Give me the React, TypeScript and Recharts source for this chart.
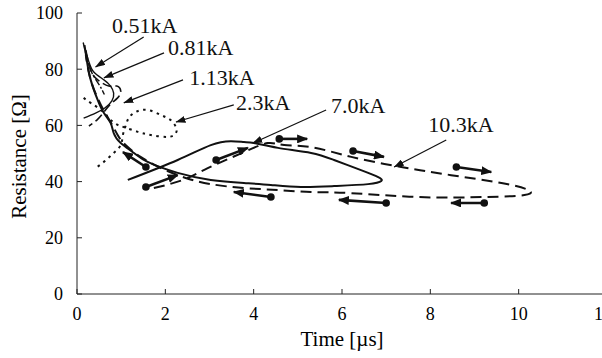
import { ComposedChart, Line, Scatter, XAxis, YAxis } from 'recharts';

const FONT = 'Liberation Serif, Times New Roman, serif';
const INK = '#111';

// resistance curves, [time µs, resistance Ω]
const curve051 = [[0.14, 89.5], [0.2, 85.5], [0.27, 81.5], [0.36, 78], [0.5, 74.5], [0.62, 71]];
const curve081 = [
  [0.17, 87.5], [0.27, 82.6], [0.38, 79.0], [0.61, 76.2], [0.76, 74.0], [0.83, 71.5],
  [0.79, 68.7], [0.63, 66.2], [0.42, 64.4], [0.15, 62.6],
];
const curve113 = [
  [0.2, 86.8], [0.31, 79.7], [0.47, 76.2], [0.72, 74.0], [0.9, 74.0], [0.99, 72.2],
  [0.92, 69.8], [0.76, 67.6], [0.61, 64.8], [0.45, 61.9], [0.27, 59.8],
];
const curve23 = [
  [0.15, 69.8], [0.31, 68.0], [0.54, 65.5], [0.72, 62.6], [0.88, 60.5], [1.06, 59.4],
  [1.38, 57.7], [1.67, 56.6], [2.06, 55.9], [2.24, 57.3], [2.24, 59.4], [2.12, 61.9],
  [1.9, 63.7], [1.6, 65.5], [1.33, 64.8], [1.17, 62.6], [1.1, 59.8], [1.04, 56.6],
  [0.99, 53.0], [0.83, 50.2], [0.63, 47.3], [0.42, 44.8],
];
const curve70 = [
  [1.15, 40.6], [2.28, 47.7], [3.03, 53.0], [3.48, 54.4], [3.78, 54.1], [4.01, 53.7],
  [4.55, 52.0], [5.3, 50.2], [5.82, 47.7], [6.43, 44.1], [6.82, 41.6], [6.89, 40.2],
  [6.59, 39.1], [5.82, 38.4], [5.07, 38.1], [4.39, 38.8], [3.78, 39.5], [3.03, 40.6],
  [2.28, 43.1], [1.6, 47.0], [1.29, 50.2], [0.99, 53.7], [0.83, 57.3], [0.76, 60.9],
  [0.61, 64.4], [0.47, 69.0], [0.31, 76.2], [0.22, 83.3], [0.17, 88.6],
];
const curve103 = [
  [1.74, 37.7], [2.4, 40.6], [2.96, 44.8], [3.78, 50.5], [4.32, 53.7], [4.69, 53.0],
  [5.3, 52.3], [6.21, 48.8], [7.34, 45.2], [8.47, 42.3], [9.61, 39.5], [10.22, 37.0],
  [10.13, 35.2], [9.22, 34.5], [7.73, 34.5], [6.21, 35.9], [5.3, 36.3], [4.55, 37.0],
  [3.78, 37.7], [3.03, 39.1], [2.46, 41.3], [1.9, 44.8], [1.44, 48.8], [1.1, 53.0],
  [0.92, 56.6], [0.76, 61.2], [0.54, 67.3], [0.31, 76.2], [0.2, 85.1],
];

const curves = [curve051, curve081, curve113, curve23, curve70, curve103];
const curveDash = ['7 2 2 2', undefined, '9 4', '2.5 4.5', undefined, '11 6'];
const curveWidth = [1.4, 1.4, 1.6, 2, 2, 2];

// direction arrows: dot end -> arrow end
const flowFrom = [[1.56, 45.2], [1.56, 38.1], [3.15, 47.7], [4.58, 55.2], [6.25, 50.9], [8.59, 45.2], [9.22, 32.4], [7.0, 32.4], [4.39, 34.5]];
const flowTo = [[1.04, 50.5], [2.28, 42.3], [3.87, 52.0], [5.21, 55.2], [6.95, 48.8], [9.38, 43.4], [8.47, 32.4], [5.93, 33.5], [3.55, 36.3]];

// current labels and their leader arrows
const labelNames = ['0.51kA', '0.81kA', '1.13kA', '2.3kA', '7.0kA', '10.3kA'];
const labelAt = [[0.79, 92.9], [2.06, 85.1], [2.54, 74.4], [3.6, 65.5], [5.75, 64.4], [7.95, 57.7]];
const leaderFrom = [[1.51, 91.5], [1.97, 85.8], [2.4, 76.2], [3.55, 67.3], [5.64, 65.5], [8.36, 54.8]];
const leaderTo = [[0.42, 80.8], [0.61, 76.9], [1.06, 68.0], [2.24, 61.2], [3.98, 53.7], [7.18, 45.2]];

const xTicks = [0, 2, 4, 6, 8, 10, 12];
const yTicks = [0, 20, 40, 60, 80, 100];

const pts = (a: number[][]) => a.map(([t, r]) => ({ t, r }));

const labelData = labelNames.map((name, i) => ({ t: labelAt[i][0], r: labelAt[i][1], name }));

const LabelText = (props: any) => (
  <text x={props.cx} y={props.cy} fontSize={22} fill={INK} style={{ fontFamily: FONT }}>
    {props.payload.name}
  </text>
);

export default function App() {
  const tickStyle = { fontSize: 18, fill: '#000', style: { fontFamily: FONT } };
  return (
    <div style={{ position: 'absolute', left: 0, top: 0, width: 602, height: 358, overflow: 'hidden', background: '#fff', fontFamily: FONT }}>
      <svg width={0} height={0} style={{ position: 'absolute' }}>
        <defs>
          <marker id="flowHead" viewBox="0 0 11 9" refX={10} refY={4.5} markerWidth={11} markerHeight={9} markerUnits="userSpaceOnUse" orient="auto">
            <path d="M0,0 L11,4.5 L0,9 z" fill={INK} />
          </marker>
          <marker id="flowDot" viewBox="0 0 8 8" refX={4} refY={4} markerWidth={8} markerHeight={8} markerUnits="userSpaceOnUse">
            <circle cx={4} cy={4} r={3.8} fill={INK} />
          </marker>
          <marker id="leadHead" viewBox="0 0 10 7" refX={9.5} refY={3.5} markerWidth={10} markerHeight={7} markerUnits="userSpaceOnUse" orient="auto">
            <path d="M0,0 L10,3.5 L0,7 z" fill={INK} />
          </marker>
        </defs>
      </svg>
      <ComposedChart width={612} height={358} margin={{ top: 13, right: 5, bottom: 8, left: 0 }} style={{ fontFamily: FONT }}>
        <XAxis
          dataKey="t"
          type="number"
          domain={[0, 12]}
          ticks={xTicks}
          allowDataOverflow
          height={56}
          tickSize={-5}
          tickMargin={18}
          tick={tickStyle}
          axisLine={{ stroke: '#222' }}
          tickLine={{ stroke: '#222' }}
          label={{ value: 'Time [µs]', position: 'insideBottom', offset: 4, style: { fontSize: 21, fill: '#000', fontFamily: FONT } }}
        />
        <YAxis
          dataKey="r"
          type="number"
          domain={[0, 100]}
          ticks={yTicks}
          allowDataOverflow
          width={77}
          tickSize={-5}
          tickMargin={19}
          tick={tickStyle}
          axisLine={{ stroke: '#222' }}
          tickLine={{ stroke: '#222' }}
          label={{ value: 'Resistance [Ω]', angle: -90, position: 'insideLeft', offset: 19, dy: 3, style: { fontSize: 21, fill: '#000', fontFamily: FONT, textAnchor: 'middle' } }}
        />
        {curves.map((c, i) => (
          <Line
            key={'c' + i}
            data={pts(c)}
            dataKey="r"
            type="natural"
            stroke={INK}
            strokeWidth={curveWidth[i]}
            strokeDasharray={curveDash[i]}
            dot={false}
            activeDot={false}
            isAnimationActive={false}
          />
        ))}
        {flowFrom.map((f, i) => (
          <Line
            key={'f' + i}
            data={pts([f, flowTo[i]])}
            dataKey="r"
            type="linear"
            stroke={INK}
            strokeWidth={2.6}
            markerStart="url(#flowDot)"
            markerEnd="url(#flowHead)"
            dot={false}
            activeDot={false}
            isAnimationActive={false}
          />
        ))}
        {leaderFrom.map((f, i) => (
          <Line
            key={'l' + i}
            data={pts([f, leaderTo[i]])}
            dataKey="r"
            type="linear"
            stroke={INK}
            strokeWidth={1.2}
            markerEnd="url(#leadHead)"
            dot={false}
            activeDot={false}
            isAnimationActive={false}
          />
        ))}
        <Scatter data={labelData} dataKey="r" shape={LabelText} isAnimationActive={false} />
      </ComposedChart>
    </div>
  );
}
